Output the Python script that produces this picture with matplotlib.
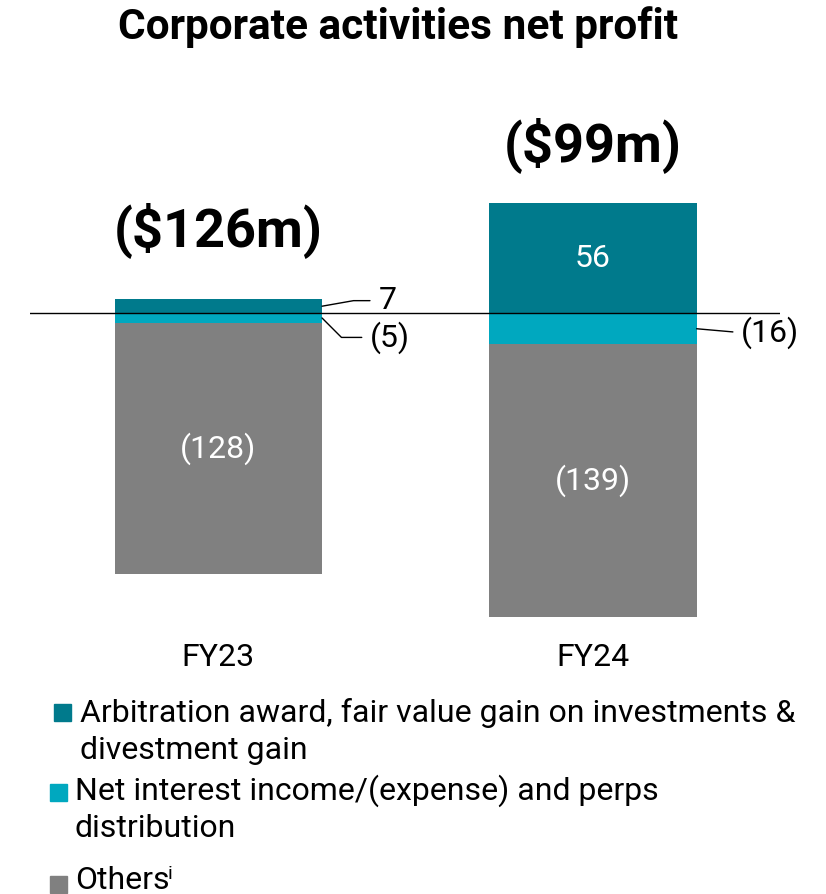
import matplotlib.pyplot as plt
from matplotlib.patches import Rectangle

plt.rcParams["font.family"] = ["Roboto", "DejaVu Sans"]

# Data
years = ["FY23", "FY24"]
arbitration = [7, 56]
net_interest = [-5, -16]
others = [-128, -139]
totals = ["($126m)", "($99m)"]

series_names = [
    ["Arbitration award, fair value gain on investments &", "divestment gain"],
    ["Net interest income/(expense) and perps", "distribution"],
    ["Others"],
]
colors = ["#007A8C", "#00A8BF", "#808080"]

W, H = 826, 894
fig = plt.figure(figsize=(W / 100, H / 100), dpi=100)

# Axes placed in pixel terms
left, right, top, bottom = 30, 780, 140, 630
ax = fig.add_axes([left / W, 1 - bottom / H, (right - left) / W, (bottom - top) / H])
ax.set_xlim(-0.503, 1.499)
ax.set_ylim(-161.7, 88.3)
ax.axis("off")

x = [0, 1]
bw = 0.553
fs = 23

# Positive segment stacked up, negative segments stacked down
ax.bar(x, arbitration, width=bw, color=colors[0])
ax.bar(x, net_interest, width=bw, color=colors[1])
ax.bar(x, others, width=bw, color=colors[2], bottom=net_interest)
ax.axhline(0, color="black", lw=1)


def fmt(v):
    return f"({abs(v)})" if v < 0 else f"{v}"


# Inside labels
ax.text(x[1], arbitration[1] / 2, fmt(arbitration[1]), color="white",
        ha="center", va="center", fontsize=fs)
for i in range(2):
    ax.text(x[i], net_interest[i] + others[i] / 2, fmt(others[i]), color="white",
            ha="center", va="center", fontsize=fs)

# Outside labels with leader lines
edge = bw / 2
callouts = [
    (x[0] + edge, arbitration[0] / 2, fmt(arbitration[0]), (47, 4), "angle,angleA=0,angleB=10,rad=0"),
    (x[0] + edge, net_interest[0] / 2, fmt(net_interest[0]), (49, -14), "angle,angleA=0,angleB=-45,rad=0"),
    (x[1] + edge, net_interest[1] / 2, fmt(net_interest[1]), (53, -3), "angle,angleA=0,angleB=-5,rad=0"),
]
for xe, ye, lab, off, cs in callouts:
    ax.annotate(lab, xy=(xe, ye), xytext=off, textcoords="offset points",
                ha="center", va="center", fontsize=fs,
                arrowprops=dict(arrowstyle="-", color="black", lw=1,
                                shrinkA=4, shrinkB=0, connectionstyle=cs))

# Totals above bars
tops = [max(a, 0) for a in arbitration]
total_offsets = [50, 42]
for i in range(2):
    ax.annotate(totals[i], xy=(x[i], tops[i]), xytext=(0, total_offsets[i]),
                textcoords="offset points", ha="center", va="center",
                fontsize=39, fontweight="bold")

# Category labels below the axes
for i in range(2):
    ax.annotate(years[i], xy=(x[i], 0), xycoords=("data", "axes fraction"),
                xytext=(0, -20), textcoords="offset points",
                ha="center", va="center", fontsize=fs)

fig.text(398 / W, 1 - 27 / H, "Corporate activities net profit", ha="center", va="center",
         fontsize=30.5, fontweight="bold")

# Legend (square centre y, square x, text x, first baseline)
leg_rows = [(712, 62, 80, 722), (792, 58, 75, 800), (884, 58, 75, 889)]
for (yc, xs, xt, yb), lines, c in zip(leg_rows, series_names, colors):
    fig.patches.append(Rectangle(((xs - 8.5) / W, 1 - (yc + 8.5) / H), 17 / W, 17 / H,
                                 transform=fig.transFigure, color=c))
    for k, line in enumerate(lines):
        fig.text(xt / W, 1 - (yb + 37 * k) / H, line, ha="left", va="baseline", fontsize=fs)
fig.text(168 / W, 1 - 874 / H, "i", ha="left", va="center", fontsize=14)

fig.savefig("out.png", dpi=100)
